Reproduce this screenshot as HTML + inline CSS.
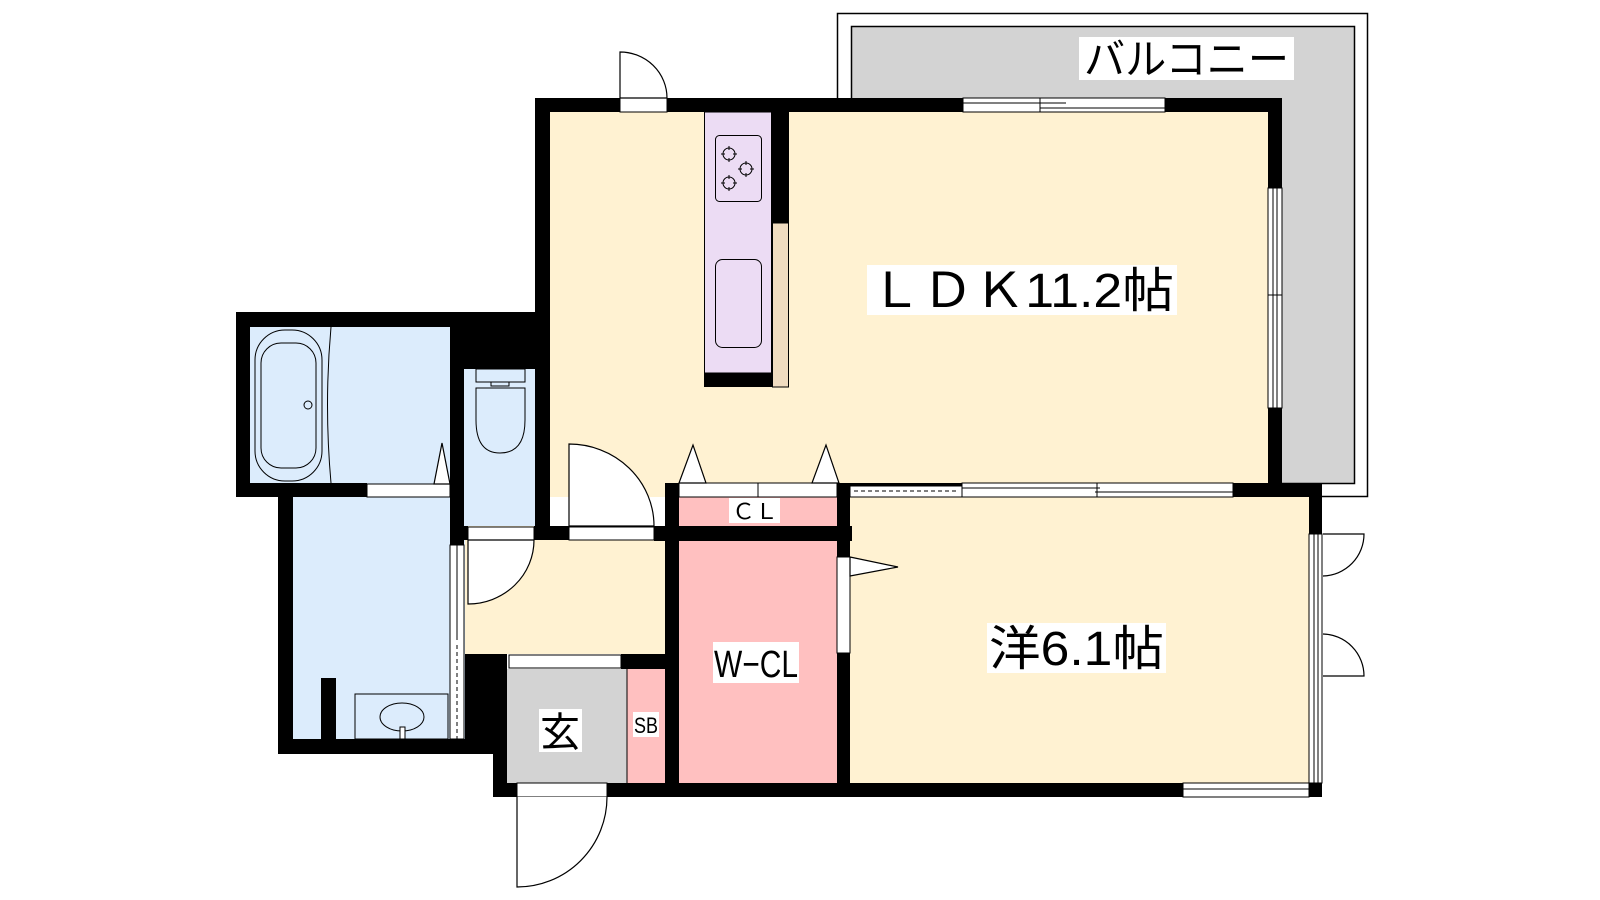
<!DOCTYPE html>
<html><head><meta charset="utf-8"><style>html,body{margin:0;padding:0;background:#fff}svg{display:block}text{font-family:"Liberation Sans","Noto Sans CJK JP",sans-serif;fill:#000}</style></head>
<body>
<svg width="1600" height="900" viewBox="0 0 1600 900" xmlns="http://www.w3.org/2000/svg">
<rect x="837.5" y="13.5" width="530" height="483" fill="#fff" stroke="#000" stroke-width="1.5"/>
<rect x="851.5" y="26.5" width="503" height="457" fill="#d3d3d3" stroke="#000" stroke-width="1.5"/>
<rect x="1079" y="37" width="215" height="43" fill="#fff"/>
<text x="1084" y="74" font-size="42" textLength="205" lengthAdjust="spacingAndGlyphs">バルコニー</text>

<rect x="535" y="98" width="747" height="399" fill="#fff2d2"/>
<rect x="850" y="483" width="472" height="314" fill="#fff2d2"/>
<rect x="464" y="526" width="201" height="128" fill="#fff2d2"/>
<rect x="236" y="312" width="229" height="185" fill="#dcecfc"/>
<rect x="278" y="483" width="187" height="271" fill="#dcecfc"/>
<rect x="464" y="369" width="71" height="157" fill="#dcecfc"/>
<rect x="665" y="483" width="185" height="314" fill="#ffc0c0"/>
<rect x="507" y="669" width="120" height="114" fill="#d3d3d3"/>
<rect x="627" y="669" width="38" height="114" fill="#ffc0c0"/>
<line x1="627" y1="669" x2="627" y2="783" stroke="#000" stroke-width="1"/>

<g fill="#000">
<rect x="535" y="98" width="85" height="14"/>
<rect x="667" y="98" width="296" height="14"/>
<rect x="1165" y="98" width="117" height="14"/>
<rect x="535" y="98" width="15" height="428"/>
<rect x="1268" y="98" width="14" height="90"/>
<rect x="1268" y="408" width="14" height="89"/>
<rect x="1233" y="483" width="89" height="14"/>
<rect x="1309" y="483" width="13" height="51"/>
<rect x="1309" y="783" width="13" height="14"/>
<rect x="665" y="483" width="14" height="314"/>
<rect x="837" y="483" width="13" height="74"/>
<rect x="837" y="653" width="13" height="144"/>
<rect x="850" y="483" width="112" height="3"/>
<rect x="654" y="526" width="198" height="15"/>
<rect x="493" y="783" width="24" height="14"/>
<rect x="607" y="783" width="576" height="14"/>
<rect x="465" y="654" width="42" height="100"/>
<rect x="493" y="654" width="14" height="143"/>
<rect x="621" y="654" width="58" height="15"/>
<rect x="450" y="526" width="18" height="14"/>
<rect x="534" y="526" width="35" height="14"/>
<rect x="450" y="312" width="14" height="233"/>
<rect x="450" y="312" width="100" height="57"/>
<rect x="236" y="312" width="214" height="15"/>
<rect x="236" y="312" width="14" height="185"/>
<rect x="236" y="483" width="131" height="14"/>
<rect x="278" y="483" width="15" height="271"/>
<rect x="278" y="739" width="187" height="15"/>
<rect x="321" y="678" width="15" height="61"/>
</g>

<g fill="#fff" stroke="#000" stroke-width="1">
<rect x="963" y="98" width="202" height="14"/>
<line x1="963" y1="103" x2="1066" y2="103"/><line x1="1040" y1="108" x2="1165" y2="108"/><line x1="1040" y1="98" x2="1040" y2="112"/>
<rect x="1268" y="188" width="14" height="220"/>
<line x1="1273" y1="188" x2="1273" y2="408"/><line x1="1277" y1="188" x2="1277" y2="408"/><line x1="1268" y1="295" x2="1282" y2="295"/>
<rect x="679" y="483" width="158" height="14"/><line x1="758" y1="483" x2="758" y2="497"/>
<rect x="850" y="486" width="112" height="11"/>
<line x1="854" y1="491" x2="958" y2="491" stroke-dasharray="4,3"/>
<rect x="962" y="483" width="271" height="14"/>
<line x1="962" y1="488" x2="1100" y2="488"/><line x1="1095" y1="492" x2="1233" y2="492"/><line x1="1097" y1="483" x2="1097" y2="497"/>
<rect x="1309" y="534" width="13" height="249"/><line x1="1314" y1="534" x2="1314" y2="783"/><line x1="1318" y1="534" x2="1318" y2="783"/>
<rect x="1183" y="783" width="126" height="14"/><line x1="1183" y1="789" x2="1309" y2="789"/>
<rect x="837" y="557" width="13" height="96"/>
<rect x="620" y="98" width="47" height="14"/>
<rect x="367" y="484" width="83" height="13"/>
<rect x="468" y="527" width="66" height="13"/>
<rect x="569" y="527" width="85" height="13"/>
<rect x="509" y="655" width="112" height="13"/>
<rect x="517" y="783" width="90" height="14"/>
<rect x="450" y="545" width="14" height="194"/>
<line x1="457" y1="545" x2="457" y2="640"/>
<line x1="457" y1="645" x2="457" y2="739" stroke-dasharray="4,3"/>
</g>

<g fill="#fff" stroke="#000" stroke-width="1.2">
<path d="M620,98 V52 A47,46 0 0 1 667,98 Z"/>
<path d="M569,526 V444 A85,82 0 0 1 654,526 Z"/>
<path d="M468,540 V604 A66,64 0 0 0 534,540 Z"/>
<path d="M517,797 V887 A90,90 0 0 0 607,797"/>
<path d="M1323,534 H1364 A42,42 0 0 1 1323,576" fill="none"/>
<path d="M1323,634 A42,42 0 0 1 1364,676 H1323" fill="none"/>
<polygon points="434,484 442,443 450,484"/>
<polygon points="679,483 693,445 706,483"/>
<polygon points="812,483 826,445 839,483"/>
<polygon points="850,557 898,567 850,576"/>
</g>

<rect x="704.5" y="112" width="67" height="261" fill="#ecdcf4" stroke="#000" stroke-width="1"/>
<rect x="704" y="373" width="68" height="14" fill="#000"/>
<rect x="772" y="112" width="17" height="111" fill="#000"/>
<rect x="772.5" y="223" width="16" height="164" fill="#f0dcc0" stroke="#000" stroke-width="1"/>
<rect x="715.5" y="135.5" width="46" height="66" rx="4" fill="none" stroke="#000"/>
<g fill="none" stroke="#000" stroke-width="1"><circle cx="729" cy="154" r="6"/><circle cx="746" cy="169" r="6"/><circle cx="729" cy="183" r="6"/>
<path d="M729,146v4M729,158v4M721,154h4M733,154h4M746,161v4M746,173v4M738,169h4M750,169h4M729,175v4M729,187v4M721,183h4M733,183h4"/></g>
<rect x="715.5" y="259.5" width="46" height="88" rx="7" fill="none" stroke="#000"/>

<g fill="none" stroke="#000" stroke-width="1">
<rect x="255" y="330" width="67" height="151" rx="30"/>
<rect x="261" y="343" width="55" height="125" rx="20"/>
<circle cx="308" cy="405" r="4"/>
<path d="M331,327 Q324,405 331,483"/>
<rect x="476" y="369" width="49" height="13"/>
<rect x="491" y="382" width="18" height="4"/>
<path d="M476,388 H525 V420 Q525,453 500,453 Q476,453 476,420 Z"/>
<rect x="355" y="694" width="93" height="45"/>
<ellipse cx="402" cy="717" rx="22" ry="14"/>
<rect x="400" y="727" width="5" height="12" fill="#fff"/>
</g>

<rect x="867" y="265" width="310" height="50" fill="#fff"/>
<text x="870" y="307" font-size="48" textLength="304" lengthAdjust="spacingAndGlyphs">ＬＤＫ11.2帖</text>
<rect x="987" y="623" width="179" height="50" fill="#fff"/>
<text x="989" y="665" font-size="48" textLength="175" lengthAdjust="spacingAndGlyphs">洋6.1帖</text>
<rect x="713" y="642" width="86" height="41" fill="#fff"/>
<text x="714" y="677" font-size="38" textLength="84" lengthAdjust="spacingAndGlyphs">W−CL</text>
<rect x="729" y="498" width="51" height="25" fill="#fff"/>
<text x="732" y="519" font-size="22" textLength="46" lengthAdjust="spacingAndGlyphs">ＣＬ</text>
<rect x="539" y="709" width="43" height="43" fill="#fff"/>
<text x="540" y="746" font-size="40">玄</text>
<rect x="633" y="712" width="26" height="25" fill="#fff"/>
<text x="634" y="733" font-size="22" textLength="24" lengthAdjust="spacingAndGlyphs">SB</text>
</svg>
</body></html>
